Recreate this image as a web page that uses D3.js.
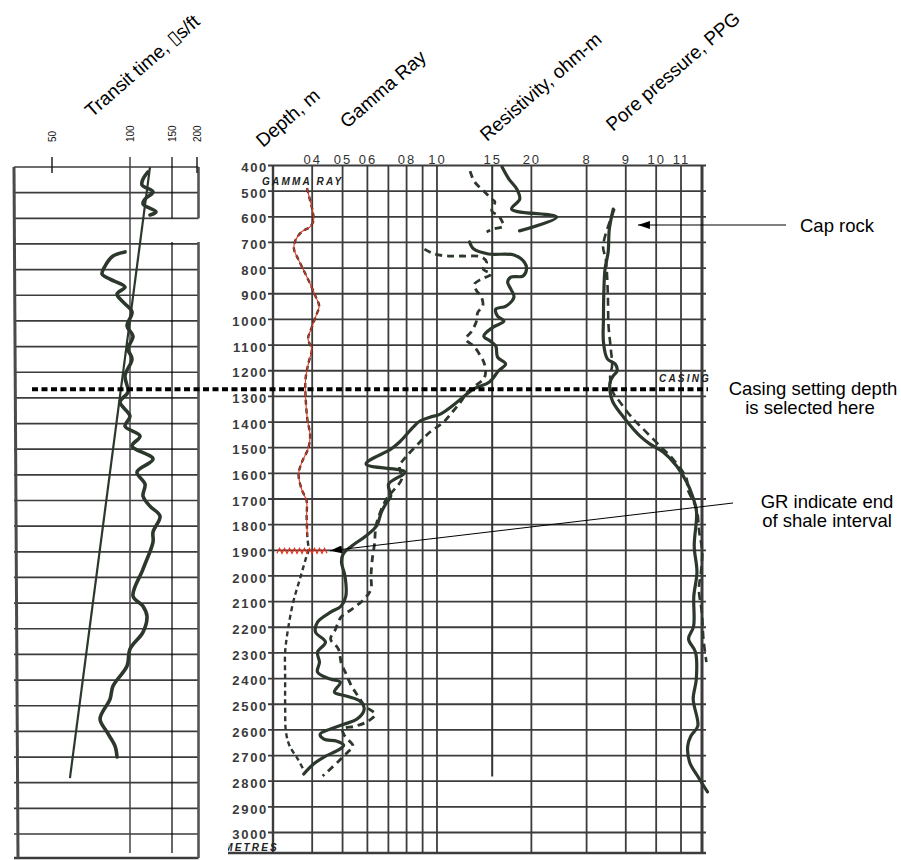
<!DOCTYPE html>
<html>
<head>
<meta charset="utf-8">
<script src="https://cdn.jsdelivr.net/npm/d3@7"></script>
<style>
  body { margin: 0; background: #ffffff; }
  svg { display: block; font-family: "Liberation Sans", Arial, sans-serif; }
</style>
</head>
<body>
<svg id="chart" width="901" height="860"></svg>
<script>
// ---------- depth grid ----------
const depthTicks = d3.range(400, 3001, 100);           // m
const casingDepth = 1270;                              // m
const shaleEndDepth = 1900;                            // m
const capRockDepth = 630;                              // m

// ---------- transit time track (µs/ft) ----------
const transitTicks = [50, 100, 150, 200];
const transitTrend = [[404, 123.8], [2786, 61.5]];     // [depth, µs/ft]
const transitUpper = [[423,121.4],[451,115.5],[474,114.3],[501,127.4],[529,117.9],[548,115.5],[579,131.0],[591,123.8]];
const transitLower = [[735,96.8],[751,89.1],[790,84.0],[821,82.1],[841,87.2],[872,96.8],[899,91.7],[930,95.5],
  [969,102.4],[1024,98.1],[1063,103.6],[1113,98.7],[1152,102.4],[1218,96.8],[1281,98.7],[1320,93.6],[1375,100],
  [1414,96.8],[1453,111.9],[1492,102.4],[1542,127.4],[1593,108.3],[1640,117.9],[1687,115.5],[1726,123.8],
  [1765,135.7],[1827,127.4],[1866,127.4],[1971,115.5],[2077,103.6],[2116,115.5],[2155,120.2],[2217,115.5],
  [2283,100],[2349,98.1],[2427,89.1],[2478,87.2],[2556,80.8],[2607,85.3],[2661,90.4],[2704,91.7]];

// ---------- log grid track (gamma ray / resistivity) ----------
const logGridValues = [0.3,0.4,0.5,0.6,0.7,0.8,0.9,1,2,3,4,5,6,7];
const logTickValues = [0.4,0.5,0.6,0.8,1.0,1.5,2.0];
const logTickLabels = ["04","05","06","08","10","15","20"];
const shaleResistivity = 1.5;                         // straight reference line
const shaleResistivityEnd = 2780;                     // m

const gammaRay = [[486,0.385],[529,0.393],[580,0.402],[614,0.404],[638,0.393],[657,0.370],[692,0.353],[724,0.350],
  [763,0.361],[813,0.378],[868,0.397],[911,0.411],[946,0.421],[985,0.411],[1028,0.399],[1075,0.388],[1113,0.399],
  [1164,0.390],[1230,0.381],[1297,0.381],[1386,0.386],[1452,0.394],[1503,0.388],[1554,0.371],[1601,0.362],
  [1659,0.370],[1706,0.384],[1765,0.384],[1843,0.386],[1901,0.389],[1920,0.384],[1998,0.368],[2100,0.348],
  [2205,0.335],[2295,0.328],[2400,0.328],[2505,0.328],[2607,0.330],[2661,0.339],[2712,0.360],[2755,0.376]];

const resDeepUpper = [[404,1.613],[451,1.696],[490,1.797],[529,1.836],[568,1.730],[599,2.41],[653,1.833]];
const resDeepLower = [[696,1.27],[724,1.31],[743,1.46],[747,1.76],[775,1.90],[802,1.93],[829,1.88],[833,1.72],
  [853,1.68],[880,1.72],[911,1.76],[946,1.66],[958,1.54],[985,1.56],[1005,1.635],[1028,1.51],[1063,1.41],
  [1083,1.48],[1102,1.54],[1145,1.56],[1172,1.655],[1199,1.57],[1242,1.47],[1269,1.31],[1320,1.16],[1367,1.025],
  [1379,0.95],[1394,0.883],[1418,0.84],[1476,0.76],[1503,0.714],[1562,0.594],[1593,0.790],[1640,0.701],
  [1687,0.712],[1718,0.686],[1749,0.665],[1804,0.641],[1843,0.592],[1882,0.534],[1913,0.502],[1944,0.496],
  [1999,0.509],[2077,0.512],[2116,0.494],[2139,0.458],[2178,0.416],[2217,0.410],[2256,0.441],[2295,0.416],
  [2334,0.422],[2373,0.416],[2400,0.457],[2412,0.492],[2451,0.471],[2467,0.517],[2486,0.568],[2517,0.586],
  [2556,0.556],[2576,0.505],[2595,0.456],[2615,0.424],[2634,0.436],[2642,0.480],[2658,0.504],[2673,0.490],
  [2704,0.436],[2731,0.404],[2770,0.376]];

const resShallowUpper = [[420,1.275],[463,1.32],[501,1.42],[529,1.495],[540,1.53],[575,1.495],[595,1.574],
  [614,1.61],[634,1.63],[646,1.51],[657,1.44]];
const resShallowLower = [[724,0.912],[743,0.982],[751,1.087],[751,1.223],[755,1.387],[775,1.44],[802,1.405],
  [821,1.49],[841,1.385],[861,1.315],[888,1.34],[907,1.382],[946,1.40],[970,1.35],[1009,1.333],[1048,1.283],
  [1075,1.235],[1102,1.31],[1141,1.378],[1164,1.41],[1199,1.43],[1230,1.41],[1250,1.347],[1281,1.25],[1320,1.19],
  [1359,1.12],[1398,1.05],[1437,0.95],[1476,0.883],[1531,0.80],[1570,0.76],[1620,0.772],[1659,0.733],[1698,0.69],
  [1796,0.641],[1874,0.632],[1932,0.622],[1998,0.616],[2049,0.616],[2088,0.586],[2127,0.536],[2159,0.494],
  [2205,0.475],[2244,0.458],[2283,0.485],[2342,0.496],[2373,0.510],[2427,0.534],[2467,0.561],[2506,0.590],
  [2537,0.635],[2564,0.604],[2584,0.548],[2595,0.500],[2622,0.508],[2661,0.540],[2685,0.519],[2724,0.482],
  [2778,0.432]];

// ---------- pore pressure (ppg) ----------
const ppgTickValues = [8, 9, 10, 11];
const ppgTickLabels = ["8", "9", "10", "11"];
const porePressure = [[568,8.68],[646,8.58],[735,8.55],[802,8.47],[891,8.44],[997,8.43],[1086,8.43],[1152,8.53],
  [1172,8.73],[1199,8.78],[1218,8.68],[1242,8.60],[1281,8.60],[1320,8.67],[1386,8.98],[1453,9.47],[1484,9.8],
  [1515,10.28],[1570,10.83],[1632,11.27],[1687,11.55],[1749,11.74],[1882,11.63],[1983,11.76],[2077,11.61],
  [2194,11.60],[2244,11.36],[2295,11.69],[2400,11.73],[2478,11.58],[2583,11.80],[2622,11.47],[2661,11.32],
  [2724,11.41],[2778,11.79],[2840,12.26]];
const porePressureAlt = [[568,8.71],[712,8.42],[763,8.49],[891,8.54],[1024,8.56],[1102,8.61],[1180,8.65],
  [1218,8.60],[1281,8.67],[1320,8.85],[1386,9.24],[1425,9.57],[1492,10.16],[1542,10.68],[1620,11.27],[1659,11.31],
  [1737,11.74],[1827,11.87],[1905,12.01],[1983,11.95],[2049,11.85],[2139,11.99],[2244,12.07],[2334,12.21]];
const capRockPPG = 9.4;
const shaleEndGR = 0.456;

// ---------- scales ----------
const svg = d3.select("#chart");
const yDepth = d3.scaleLinear().domain([400, 3000]).range([166, 833]);
const xLog = d3.scaleLog().domain([0.3, 7]).range([273, 702]);
const xPPG = d3.scaleLinear().domain([8, 9, 10, 11, 12]).range([3, 4, 5, 6, 7].map(v => xLog(v)));
const xTransit = d3.scaleLinear().domain([50, 100, 150, 200]).range([52, 130, 172, 197]);

const gridColor = "#3c3c3c";
const curveColor = "#2d382d";

const defs = svg.append("defs");
defs.append("marker").attr("id", "arrow").attr("viewBox", "0 0 12 8")
  .attr("refX", 12).attr("refY", 4).attr("markerWidth", 12).attr("markerHeight", 8)
  .attr("markerUnits", "userSpaceOnUse").attr("orient", "auto")
  .append("path").attr("d", "M0,0 L12,4 L0,8 Z").attr("fill", "#000");
defs.append("clipPath").attr("id", "metresClip")
  .append("rect").attr("x", 228).attr("y", 830).attr("width", 60).attr("height", 30);

// ---------- transit time track ----------
const leftTrack = svg.append("g");
const lx0 = 14, lx1 = xTransit(200) + 1.5, ly0 = yDepth(400) + 1, ly1 = 858;

leftTrack.selectAll("line.h").data(depthTicks).join("line")
  .attr("x1", lx0).attr("x2", lx1)
  .attr("y1", d => yDepth(d) + 1).attr("y2", d => yDepth(d) + 1)
  .attr("stroke", gridColor).attr("stroke-width", 1.7);
leftTrack.append("line").attr("x1", lx0).attr("x2", lx1).attr("y1", ly1).attr("y2", ly1)
  .attr("stroke", gridColor).attr("stroke-width", 2.6);
leftTrack.append("line").attr("x1", lx0).attr("x2", lx0 + 4).attr("y1", ly0).attr("y2", ly1)
  .attr("stroke", "#4a4a4a").attr("stroke-width", 3);

// vertical scale lines; the upper-right corner of the sheet is blank between 660 and 730 m
const gapTop = yDepth(600) + 1, gapBot = yDepth(700) - 1;
leftTrack.append("line").attr("x1", xTransit(100)).attr("x2", xTransit(100)).attr("y1", 157).attr("y2", 853)
  .attr("stroke", "#444").attr("stroke-width", 1.5);
[[157, gapTop], [gapBot, 853]].forEach(([a, b]) => {
  leftTrack.append("line").attr("x1", xTransit(150)).attr("x2", xTransit(150)).attr("y1", a).attr("y2", b)
    .attr("stroke", "#000").attr("stroke-width", 1.2);
});
[[ly0, gapTop], [gapBot, ly1]].forEach(([a, b]) => {
  leftTrack.append("line").attr("x1", lx1).attr("x2", lx1).attr("y1", a).attr("y2", b)
    .attr("stroke", "#555").attr("stroke-width", 2.6);
});
leftTrack.append("rect").attr("x", xTransit(100) + 2).attr("y", gapTop + 1.5)
  .attr("width", lx1 - xTransit(100) + 4).attr("height", gapBot - gapTop - 2).attr("fill", "#fff");
[50, 200].forEach(v => {
  leftTrack.append("line").attr("x1", xTransit(v)).attr("x2", xTransit(v)).attr("y1", 157).attr("y2", 173)
    .attr("stroke", "#222").attr("stroke-width", 1.5);
});
leftTrack.selectAll("text.tt").data(transitTicks).join("text")
  .attr("transform", d => `translate(${xTransit(d) + 4},142) rotate(-90)`)
  .attr("font-size", 10).attr("fill", "#111").text(d => d);

// normal compaction trend and transit time log
const tLine = d3.line().x(d => xTransit(d[1])).y(d => yDepth(d[0]));
leftTrack.append("path").attr("d", tLine(transitTrend)).attr("fill", "none")
  .attr("stroke", curveColor).attr("stroke-width", 2.2);
const tCurve = d3.line().x(d => xTransit(d[1])).y(d => yDepth(d[0])).curve(d3.curveCatmullRom.alpha(0.5));
[transitUpper, transitLower].forEach(seg => {
  leftTrack.append("path").attr("d", tCurve(seg)).attr("fill", "none")
    .attr("stroke", curveColor).attr("stroke-width", 3.6)
    .attr("stroke-linejoin", "round").attr("stroke-linecap", "round");
});

// ---------- log grid track ----------
const mid = svg.append("g");
const my0 = yDepth(400) - 1, my1 = 853;

mid.selectAll("line.h").data(depthTicks).join("line")
  .attr("x1", 268).attr("x2", 706)
  .attr("y1", d => yDepth(d) - 0.5).attr("y2", d => yDepth(d) - 0.5)
  .attr("stroke", gridColor).attr("stroke-width", d => d === 400 ? 2.2 : 1.8);
mid.append("line").attr("x1", 228).attr("x2", 706).attr("y1", my1).attr("y2", my1)
  .attr("stroke", gridColor).attr("stroke-width", 2.6);
mid.selectAll("line.v").data(logGridValues).join("line")
  .attr("x1", d => xLog(d)).attr("x2", d => xLog(d)).attr("y1", my0).attr("y2", my1)
  .attr("stroke", gridColor)
  .attr("stroke-width", d => d === 7 ? 3 : (d === 0.3 ? 2.4 : 1.8));
mid.append("line").attr("x1", xLog(shaleResistivity)).attr("x2", xLog(shaleResistivity))
  .attr("y1", my0).attr("y2", yDepth(shaleResistivityEnd))
  .attr("stroke", "#2f352f").attr("stroke-width", 2);

// depth labels
const depthAxis = mid.append("g").attr("transform", "translate(270,1)")
  .call(d3.axisLeft(yDepth).tickValues(depthTicks).tickSize(0).tickPadding(2).tickFormat(d3.format("d")));
depthAxis.select(".domain").remove();
depthAxis.selectAll("text").attr("font-family", "'Liberation Sans', Arial, sans-serif")
  .attr("font-size", 13).attr("font-weight", "bold").attr("fill", "#3a3a3a")
  .attr("letter-spacing", 1.7).attr("dy", "0.36em");

// top scale labels
const logAxis = mid.append("g").attr("transform", `translate(0,${my0 - 0.5})`)
  .call(d3.axisTop(xLog).tickValues(logTickValues).tickSize(0).tickPadding(1)
    .tickFormat((d, i) => logTickLabels[i]));
const ppgAxis = mid.append("g").attr("transform", `translate(0,${my0 - 0.5})`)
  .call(d3.axisTop(xPPG).tickValues(ppgTickValues).tickSize(0).tickPadding(1)
    .tickFormat((d, i) => ppgTickLabels[i]));
[logAxis, ppgAxis].forEach(ax => {
  ax.select(".domain").remove();
  ax.selectAll("text").attr("font-family", "'Liberation Sans', Arial, sans-serif")
    .attr("font-size", 13).attr("fill", "#333").attr("letter-spacing", 2);
});

const smallCaps = { size: 10, spacing: 2.2, fill: "#222" };
mid.append("text").attr("x", 262).attr("y", 185).attr("font-size", smallCaps.size).attr("font-weight", "bold")
  .attr("font-style", "italic").attr("letter-spacing", smallCaps.spacing).attr("fill", smallCaps.fill)
  .text("GAMMA RAY");
mid.append("text").attr("x", 659).attr("y", 382).attr("font-size", smallCaps.size).attr("font-weight", "bold")
  .attr("font-style", "italic").attr("letter-spacing", smallCaps.spacing).attr("fill", smallCaps.fill)
  .text("CASING");
mid.append("text").attr("x", 279).attr("y", 851).attr("text-anchor", "end").attr("clip-path", "url(#metresClip)")
  .attr("font-size", smallCaps.size).attr("font-weight", "bold").attr("font-style", "italic")
  .attr("letter-spacing", smallCaps.spacing).attr("fill", smallCaps.fill).text("METRES");

// curves
const logCurve = d3.line().x(d => xLog(d[1])).y(d => yDepth(d[0])).curve(d3.curveCatmullRom.alpha(0.5));
const ppgCurve = d3.line().x(d => xPPG(d[1])).y(d => yDepth(d[0])).curve(d3.curveCatmullRom.alpha(0.5));

mid.append("path").attr("d", logCurve(gammaRay)).attr("fill", "none")
  .attr("stroke", curveColor).attr("stroke-width", 2.4).attr("stroke-dasharray", "5,3.5");
mid.append("path").attr("d", logCurve(gammaRay.filter(d => d[0] <= shaleEndDepth))).attr("fill", "none")
  .attr("stroke", "#e8321e").attr("stroke-width", 1.1);

[resShallowUpper, resShallowLower].forEach(seg => {
  mid.append("path").attr("d", logCurve(seg)).attr("fill", "none")
    .attr("stroke", curveColor).attr("stroke-width", 2.8).attr("stroke-dasharray", "7,5");
});
[resDeepUpper, resDeepLower].forEach(seg => {
  mid.append("path").attr("d", logCurve(seg)).attr("fill", "none")
    .attr("stroke", curveColor).attr("stroke-width", 3.2)
    .attr("stroke-linejoin", "round").attr("stroke-linecap", "round");
});
mid.append("path").attr("d", ppgCurve(porePressureAlt)).attr("fill", "none")
  .attr("stroke", curveColor).attr("stroke-width", 2.6).attr("stroke-dasharray", "8,5");
mid.append("path").attr("d", ppgCurve(porePressure)).attr("fill", "none")
  .attr("stroke", curveColor).attr("stroke-width", 3.2)
  .attr("stroke-linejoin", "round").attr("stroke-linecap", "round");

// red wavy marker at the base of the shale
const yShale = yDepth(shaleEndDepth);
const zig = d3.range(277, 329, 2.5).map((x, i) => [x, yShale + (i % 2 ? -2.5 : 2.5)]);
mid.append("path").attr("d", d3.line()(zig)).attr("fill", "none")
  .attr("stroke", "#e8321e").attr("stroke-width", 1.2);

// casing setting depth
svg.append("line").attr("x1", 32).attr("x2", 708)
  .attr("y1", yDepth(casingDepth)).attr("y2", yDepth(casingDepth))
  .attr("stroke", "#000").attr("stroke-width", 4).attr("stroke-dasharray", "6,3.5");

// ---------- track titles ----------
const titles = [
  ["Transit time, \u25AFs/ft", 92, 118],
  ["Depth, m", 263, 148],
  ["Gamma Ray", 347, 129],
  ["Resistivity, ohm-m", 487, 142],
  ["Pore pressure, PPG", 613, 132]
];
svg.selectAll("text.title").data(titles).join("text")
  .attr("transform", d => `translate(${d[1]},${d[2]}) rotate(-41)`)
  .attr("font-size", 19).attr("fill", "#000").text(d => d[0]);

// ---------- annotations ----------
const notes = svg.append("g").attr("font-size", 18.5).attr("fill", "#000");
notes.append("line").attr("x1", 786).attr("y1", yDepth(capRockDepth))
  .attr("x2", xPPG(capRockPPG)).attr("y2", yDepth(capRockDepth))
  .attr("stroke", "#000").attr("stroke-width", 1).attr("marker-end", "url(#arrow)");
notes.append("text").attr("x", 800).attr("y", 232).text("Cap rock");

notes.append("text").attr("x", 813).attr("y", 395).attr("text-anchor", "middle").text("Casing setting depth");
notes.append("text").attr("x", 810).attr("y", 414).attr("text-anchor", "middle").text("is selected here");

notes.append("line").attr("x1", 733).attr("y1", 503)
  .attr("x2", xLog(shaleEndGR)).attr("y2", yShale)
  .attr("stroke", "#000").attr("stroke-width", 1).attr("marker-end", "url(#arrow)");
notes.append("text").attr("x", 827).attr("y", 508).attr("text-anchor", "middle").text("GR indicate end");
notes.append("text").attr("x", 827).attr("y", 527).attr("text-anchor", "middle").text("of shale interval");
</script>
</body>
</html>
